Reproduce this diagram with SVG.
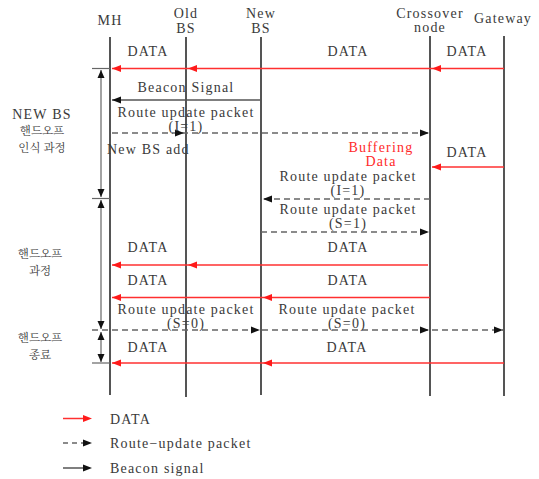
<svg xmlns="http://www.w3.org/2000/svg" xmlns:xlink="http://www.w3.org/1999/xlink" width="539" height="479" viewBox="0 0 539 479">
<style>
text{font-family:"Liberation Serif","Noto Sans CJK KR",serif;font-size:14px;fill:#3a3a3a;letter-spacing:1.2px}
.c{text-anchor:middle}
.kr{font-family:"Noto Serif CJK KR","Noto Sans CJK KR",serif;font-size:11.5px;letter-spacing:0}
.red{fill:#ff2a2a}
.life{stroke:#555;stroke-width:2;fill:none}
.data{stroke:#ff3030;stroke-width:1.5;fill:none}
.dash{stroke:#666;stroke-width:1.5;stroke-dasharray:6,4;fill:none}
.solid{stroke:#555;stroke-width:1.5;fill:none}
.tick{stroke:#666;stroke-width:1.2;fill:none}
</style>
<defs>
<path id="rl" d="M0,0 L9,-3.5 L9,3.5 Z" fill="#ff1a1a"/>
<path id="rr" d="M0,0 L-9,-3.5 L-9,3.5 Z" fill="#ff1a1a"/>
<path id="kl" d="M0,0 L9,-3.5 L9,3.5 Z" fill="#111"/>
<path id="kr" d="M0,0 L-9,-3.5 L-9,3.5 Z" fill="#111"/>
<path id="ku" d="M0,0 L-3.5,8 L3.5,8 Z" fill="#111"/>
<path id="kd" d="M0,0 L-3.5,-8 L3.5,-8 Z" fill="#111"/>
</defs>

<g id="MH"><text class="c" x="110" y="25">MH</text><line class="life" x1="110" y1="37" x2="110" y2="395"/></g>
<g id="OldBS"><text class="c" x="186" y="18">Old</text><text class="c" x="186" y="33">BS</text><line class="life" x1="186" y1="37" x2="186" y2="397"/></g>
<g id="NewBS"><text class="c" x="261" y="18">New</text><text class="c" x="261" y="33">BS</text><line class="life" x1="261" y1="37" x2="261" y2="395"/></g>
<g id="Crossover"><text class="c" x="430" y="18">Crossover</text><text class="c" x="430" y="32">node</text><line class="life" x1="430" y1="36" x2="430" y2="396"/></g>
<g id="Gateway"><text class="c" x="503" y="23">Gateway</text><line class="life" x1="504" y1="36" x2="504" y2="396"/></g>

<g id="connectors">
<line class="tick" x1="92" y1="68.5" x2="110" y2="68.5"/>
<line class="tick" x1="92" y1="198.5" x2="110" y2="198.5"/>
<line class="tick" x1="92" y1="363" x2="110" y2="363"/>
<line class="tick" x1="101" y1="70" x2="101" y2="197"/>
<use xlink:href="#ku" x="101" y="70"/><use xlink:href="#kd" x="101" y="197"/>
<line class="tick" x1="101" y1="200" x2="101" y2="329"/>
<use xlink:href="#ku" x="101" y="200"/><use xlink:href="#kd" x="101" y="329"/>
<line class="tick" x1="101" y1="332" x2="101" y2="362"/>
<use xlink:href="#ku" x="101" y="332"/><use xlink:href="#kd" x="101" y="362"/>

<line class="data" x1="504" y1="68.5" x2="112" y2="68.5"/>
<use xlink:href="#rl" x="112" y="68.5"/><use xlink:href="#rl" x="188" y="68.5"/><use xlink:href="#rl" x="432" y="68.5"/>
<line class="solid" x1="261" y1="100" x2="112" y2="100"/>
<use xlink:href="#kl" x="112" y="100"/>
<line class="dash" x1="112" y1="133" x2="428" y2="133"/>
<use xlink:href="#kr" x="184" y="133"/><use xlink:href="#kr" x="429" y="133"/>
<line class="data" x1="504" y1="167" x2="432" y2="167"/>
<use xlink:href="#rl" x="432" y="167"/>
<line class="dash" x1="430" y1="199" x2="263" y2="199"/>
<use xlink:href="#kl" x="263" y="199"/>
<line class="dash" x1="261" y1="232" x2="428" y2="232"/>
<use xlink:href="#kr" x="429" y="232"/>
<line class="data" x1="428" y1="265" x2="112" y2="265"/>
<use xlink:href="#rl" x="112" y="265"/><use xlink:href="#rl" x="188" y="265"/>
<line class="data" x1="430" y1="297.5" x2="112" y2="297.5"/>
<use xlink:href="#rl" x="112" y="297.5"/><use xlink:href="#rl" x="263" y="297.5"/>
<line class="dash" x1="92" y1="330" x2="503" y2="330"/>
<use xlink:href="#kr" x="260" y="330"/><use xlink:href="#kr" x="429" y="330"/><use xlink:href="#kr" x="503" y="330"/>
<line class="data" x1="504" y1="363" x2="112" y2="363"/>
<use xlink:href="#rl" x="112" y="363"/><use xlink:href="#rl" x="263" y="363"/>
</g>

<g id="labels">
<text class="c" x="148" y="56">DATA</text>
<text class="c" x="348" y="56">DATA</text>
<text class="c" x="467" y="56">DATA</text>
<text class="c" x="186" y="92">Beacon Signal</text>
<text class="c" x="186" y="117">Route update packet</text>
<text class="c" x="186" y="131">(I=1)</text>
<text x="107" y="154">New BS add</text>
<text class="c red" x="381" y="152">Buffering</text>
<text class="c red" x="381" y="166">Data</text>
<text class="c" x="467" y="157">DATA</text>
<text class="c" x="348" y="181">Route update packet</text>
<text class="c" x="348" y="195">(I=1)</text>
<text class="c" x="348" y="214">Route update packet</text>
<text class="c" x="348" y="228">(S=1)</text>
<text class="c" x="148" y="252">DATA</text>
<text class="c" x="348" y="252">DATA</text>
<text class="c" x="148" y="285">DATA</text>
<text class="c" x="348" y="285">DATA</text>
<text class="c" x="186" y="314">Route update packet</text>
<text class="c" x="186" y="328">(S=0)</text>
<text class="c" x="347" y="314">Route update packet</text>
<text class="c" x="347" y="328">(S=0)</text>
<text class="c" x="148" y="352">DATA</text>
<text class="c" x="347" y="352">DATA</text>

<text class="c" x="42" y="119">NEW BS</text>
<text class="c kr" x="42" y="135">핸드오프</text>
<text class="c kr" x="42" y="152">인식 과정</text>
<text class="c kr" x="40" y="258">핸드오프</text>
<text class="c kr" x="40" y="275">과정</text>
<text class="c kr" x="40" y="342">핸드오프</text>
<text class="c kr" x="40" y="359">종료</text>
</g>

<g id="legend">
<line class="data" x1="63" y1="418.5" x2="84" y2="418.5"/><use xlink:href="#rr" x="92" y="418.5"/>
<text x="110" y="424">DATA</text>
<line class="dash" x1="63" y1="443" x2="84" y2="443" style="stroke-dasharray:5,4"/><use xlink:href="#kr" x="92" y="443"/>
<text x="110" y="448">Route−update packet</text>
<line class="solid" x1="63" y1="468" x2="84" y2="468"/><use xlink:href="#kr" x="92" y="468"/>
<text x="110" y="473">Beacon signal</text>
</g>
</svg>
